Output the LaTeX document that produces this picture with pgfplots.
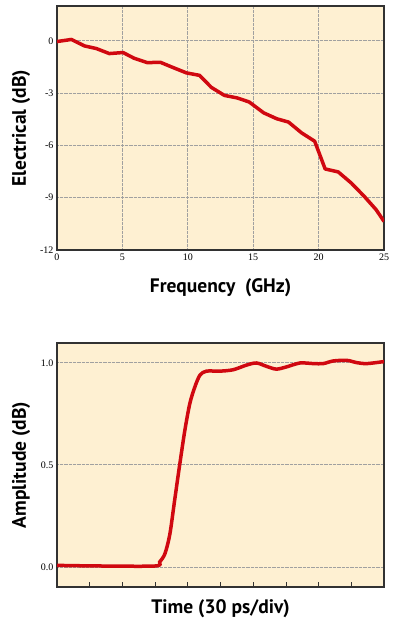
\documentclass[border=0pt]{standalone}
\usepackage{pgfplots}
\pgfplotsset{compat=1.18}
\usepackage{fontspec}
\setmainfont{Liberation Serif}
\newfontfamily\labfont{PT Sans}
\definecolor{bgcream}{RGB}{254,240,210}
\definecolor{curvered}{RGB}{208,8,16}
\definecolor{gridgray}{RGB}{160,160,160}
\definecolor{framegray}{RGB}{50,50,50}
\begin{document}
\begin{tikzpicture}[x=1pt,y=1pt]
\useasboundingbox (0,0) rectangle (395,623);
\pgfplotsset{
  common/.style={
    scale only axis, width=327pt, height=244pt,
    axis background/.style={fill=bgcream},
    axis line style={framegray, line width=1.1pt},
    tick label style={font=\fontsize{10}{11}\selectfont},
    /pgf/number format/assume math mode=true,
    label style={font=\labfont\bfseries\fontsize{19.5}{22}\selectfont},
    grid style={gridgray, dash pattern=on 1pt off 0.3pt, line width=1pt},
  }
}
\begin{axis}[common,
  at={(57pt,373pt)}, anchor=south west,
  xmin=0, xmax=25, ymin=-12, ymax=2,
  xtick={0,5,10,15,20,25}, ytick={-12,-9,-6,-3,0},
  grid=major, tick style={draw=none},
  xlabel={Frequency~~(GHz)},
  ylabel={Electrical (dB)},
  xlabel style={at={(axis description cs:0.5,-0.155)}, anchor=center},
  ylabel style={at={(axis description cs:-0.11,0.5)}, anchor=center},
]
\addplot[curvered, line width=3.5pt, line join=round] coordinates {
(0,-0.04) (1.1,0.08) (2.1,-0.29) (3.0,-0.44) (4.0,-0.73) (5.05,-0.67)
(5.9,-1.0) (6.9,-1.25) (7.9,-1.23) (8.9,-1.54) (9.9,-1.84) (10.9,-1.98)
(11.8,-2.67) (12.8,-3.13) (13.8,-3.28) (14.7,-3.51) (15.8,-4.13) (16.8,-4.47)
(17.7,-4.66) (18.7,-5.28) (19.7,-5.76) (20.5,-7.35) (21.5,-7.52) (22.5,-8.16)
(23.5,-8.93) (24.4,-9.69) (25,-10.36)
};
\end{axis}
\begin{axis}[common,
  at={(57pt,36pt)}, anchor=south west,
  xmin=0, xmax=10, ymin=-0.098, ymax=1.098,
  xtick={1,2,3,4,5,6,7,8,9}, xticklabels={},
  ytick={0,0.5,1}, ymajorgrids,
  yticklabel style={/pgf/number format/.cd, fixed, fixed zerofill, precision=1},
  xtick style={draw=framegray, line width=0.8pt}, ytick style={draw=none},
  major tick length=5pt, xtick pos=bottom,
  xlabel={Time (30 ps/div)},
  ylabel={Amplitude (dB)},
  xlabel style={at={(axis description cs:0.5,-0.088)}, anchor=center},
  ylabel style={at={(axis description cs:-0.11,0.5)}, anchor=center},
]
\addplot[curvered, line width=3.5pt, smooth, tension=0.5] coordinates {
(0,0.008) (1.3,0.005) (3.0,0.005) (3.14,0.025) (3.3,0.065) (3.45,0.16)
(3.6,0.33) (3.76,0.51) (3.91,0.67) (4.06,0.80) (4.21,0.88) (4.37,0.94)
(4.57,0.96) (4.98,0.96) (5.39,0.967) (5.8,0.99) (6.1,1.0) (6.4,0.984)
(6.7,0.97) (7.0,0.98) (7.43,1.0) (7.84,0.997) (8.14,0.997) (8.45,1.01)
(8.86,1.013) (9.16,1.002) (9.47,0.997) (10,1.007)
};
\end{axis}
\end{tikzpicture}
\end{document}
